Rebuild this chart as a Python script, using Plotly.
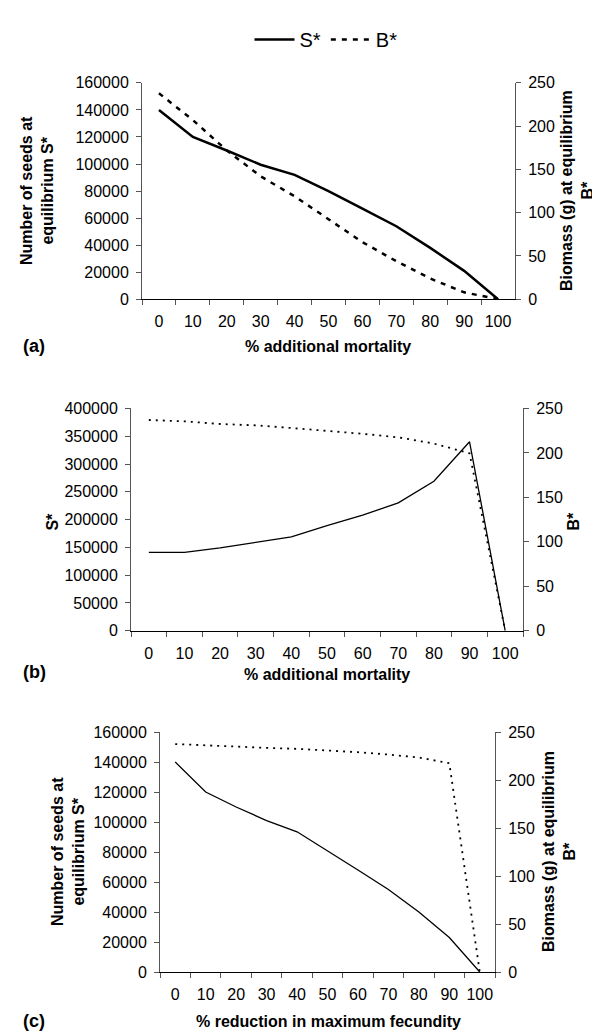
import plotly.graph_objects as go

# ---------------- data ----------------
categories = ["0", "10", "20", "30", "40", "50", "60", "70", "80", "90", "100"]

a_seeds = [140000, 120000, 110000, 99500, 92000, 80000, 67000, 54000, 38000, 21000, 0]
a_biomass = [238, 207, 172, 142, 119, 93, 66, 44, 24, 8, 0]

b_seeds = [141000, 141000, 149000, 159000, 169000, 189000, 208000, 230000, 269000, 340000, 0]
b_biomass = [237, 235.5, 232.5, 231, 228, 225, 221.5, 217.5, 210.5, 199.5, 0]

c_seeds = [140000, 120000, 110000, 101000, 93500, 81000, 68000, 55000, 40000, 23000, 0]
c_biomass = [237.5, 236, 235, 233.5, 232.5, 231, 229, 226.5, 223.5, 217.5, 0]

FONT = "Liberation Sans, Arial, sans-serif"
AX = "#555555"

fig = go.Figure()

# panel (a)
fig.add_trace(go.Scatter(x=categories, y=a_seeds, mode="lines", name="S*",
                         line=dict(color="black", width=2.5), xaxis="x", yaxis="y"))
fig.add_trace(go.Scatter(x=categories, y=a_biomass, mode="lines", name="B*",
                         line=dict(color="black", width=2.5, dash="5px,6px"), xaxis="x", yaxis="y2"))
# panel (b)
fig.add_trace(go.Scatter(x=categories, y=b_seeds, mode="lines", showlegend=False,
                         line=dict(color="black", width=1.3), xaxis="x2", yaxis="y3"))
fig.add_trace(go.Scatter(x=categories, y=b_biomass, mode="lines", showlegend=False,
                         line=dict(color="black", width=1.8, dash="2px,5px"), xaxis="x2", yaxis="y4"))
# panel (c)
fig.add_trace(go.Scatter(x=categories, y=c_seeds, mode="lines", showlegend=False,
                         line=dict(color="black", width=1.3), xaxis="x3", yaxis="y5"))
fig.add_trace(go.Scatter(x=categories, y=c_biomass, mode="lines", showlegend=False,
                         line=dict(color="black", width=1.8, dash="2px,5px"), xaxis="x3", yaxis="y6"))

H = 1034.0
W = 600.0


def xdom(l, r):
    return [l / W, r / W]


def ydom(top, bot):
    return [1 - bot / H, 1 - top / H]


tickfont = dict(family=FONT, size=16, color="black")


def xaxis_cfg(dom, anchor):
    return dict(domain=dom, anchor=anchor, type="category", tickson="boundaries",
                range=[-0.5, len(categories) - 0.5], tickangle=0,
                ticks="outside", ticklen=5, tickcolor=AX, showline=True, linecolor="black",
                linewidth=1, showgrid=False, zeroline=False, tickfont=tickfont,
                ticklabelstandoff=8, fixedrange=True)


def yleft_cfg(dom, anchor, rng, dtick):
    return dict(domain=dom, anchor=anchor, range=rng, dtick=dtick, tickformat="d",
                ticks="outside", ticklen=5, tickcolor=AX, showline=True, linecolor=AX,
                linewidth=1, showgrid=False, zeroline=False, tickfont=tickfont,
                ticklabelstandoff=4)


def yright_cfg(over, anchor, rng, dtick):
    return dict(overlaying=over, anchor=anchor, side="right", range=rng, dtick=dtick,
                tickformat="d", ticks="outside", ticklen=5, tickcolor=AX, showline=True,
                linecolor=AX, linewidth=1, showgrid=False, zeroline=False, tickfont=tickfont,
                ticklabelstandoff=4)


fig.update_layout(
    width=600, height=1034,
    margin=dict(l=0, r=0, t=0, b=0),
    paper_bgcolor="white", plot_bgcolor="white",
    font=dict(family=FONT, color="black"),
    showlegend=True,
    legend=dict(orientation="h", x=0.53, xanchor="center", y=1 - 4 / H, yanchor="top",
                font=dict(family=FONT, size=20, color="black"), itemwidth=40,
                bgcolor="rgba(0,0,0,0)"),
    xaxis=xaxis_cfg(xdom(134, 507), "y"),
    yaxis=yleft_cfg(ydom(68, 288), "x", [0, 160000], 20000),
    yaxis2=yright_cfg("y", "x", [0, 250], 50),
    xaxis2=xaxis_cfg(xdom(123, 515), "y3"),
    yaxis3=yleft_cfg(ydom(399, 625), "x2", [0, 400000], 50000),
    yaxis4=yright_cfg("y3", "x2", [0, 250], 50),
    xaxis3=xaxis_cfg(xdom(152, 487), "y5"),
    yaxis5=yleft_cfg(ydom(728, 972), "x3", [0, 160000], 20000),
    yaxis6=yright_cfg("y5", "x3", [0, 250], 50),
)


def ann(text, x, y, angle=0, size=16):
    fig.add_annotation(text=text, x=x / W, y=1 - y / H, xref="paper", yref="paper",
                       showarrow=False, textangle=angle, xanchor="center", yanchor="middle",
                       font=dict(family=FONT, size=size, color="black"))


# axis titles
ann("<b>Number of seeds at<br>equilibrium S*</b>", 29, 178, -90)
ann("<b>Biomass (g) at equilibrium<br>B*</b>", 569, 178, -90)
ann("<b>S*</b>", 45, 514, -90)
ann("<b>B*</b>", 566, 514, -90)
ann("<b>Number of seeds at<br>equilibrium S*</b>", 60, 850, -90)
ann("<b>Biomass (g) at equilibrium<br>B*</b>", 551, 850, -90)

ann("<b>% additional mortality</b>", 320, 336)
ann("<b>% additional mortality</b>", 319, 670)
ann("<b>% reduction in maximum fecundity</b>", 320, 1022)

ann("<b>(a)</b>", 26, 336, size=18)
ann("<b>(b)</b>", 26, 667, size=18)
ann("<b>(c)</b>", 26, 1022, size=18)

fig.write_html("out.html")
